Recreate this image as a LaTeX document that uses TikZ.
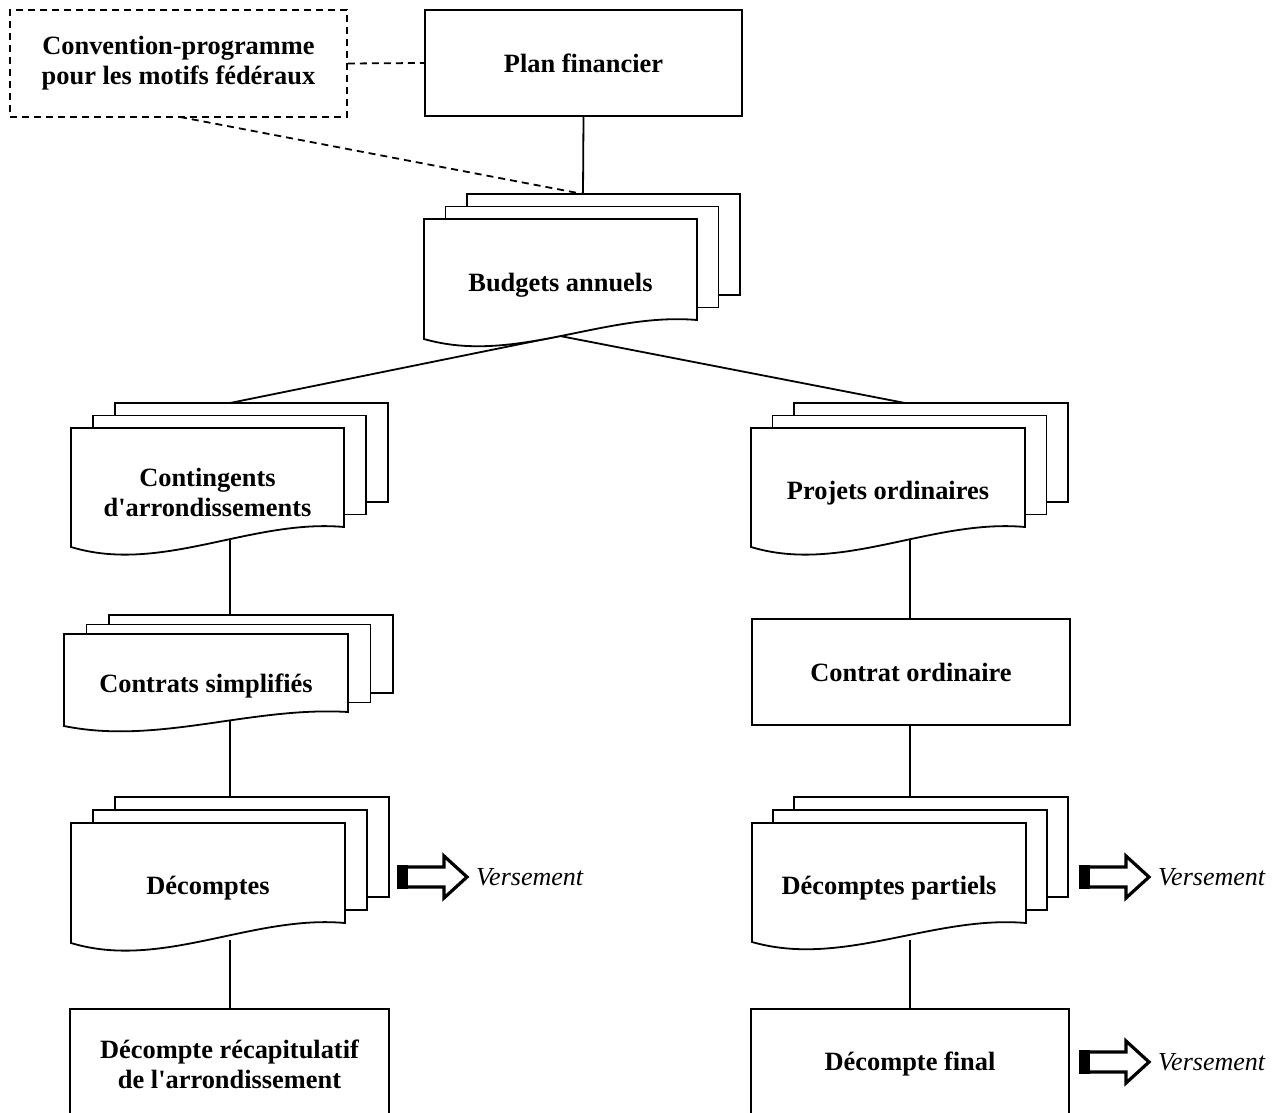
\documentclass[tikz,border=0pt]{standalone}
\usepackage{fontspec}
\setmainfont{Liberation Serif}
\pgfdeclarelayer{bg}
\pgfsetlayers{bg,main}
\tikzset{
  lw/.style={line width=1.8pt},
  sheet/.style={lw, draw=black, fill=white, line join=miter},
  lbl/.style={font=\bfseries\fontsize{26.4}{30}\selectfont, align=center, inner sep=0pt},
  boxnode/.style={lw, draw=black, fill=white, align=center, inner sep=0pt,
     font=\bfseries\fontsize{26.4}{30}\selectfont},
  dashline/.style={lw, dash pattern=on 7pt off 5pt},
  conn/.style={lw},
  verstext/.style={font=\itshape\fontsize{26}{30}\selectfont, inner sep=0pt, anchor=west},
  blockarrow/.style={line width=3.2pt, draw=black, fill=white, line join=miter}
}
% #1 name #2 x #3 y #4 w #5 h #6 L #7 dx #8 dy #9 text
\newcommand\docstack[9]{%
  \begin{scope}[shift={(#2,#3)}]
    \filldraw[sheet] (2*#7,-2*#8) rectangle ++(#4,#5);
    \filldraw[sheet] (#7,-#8) rectangle ++(#4,#5);
    \filldraw[sheet] (0,0) -- (#4,0) -- (#4,#5)
      .. controls ({0.66*#4},{#5-0.42*#6}) and ({0.33*#4},{#5+2.37*#6}) .. (0,{#5+#6}) -- cycle;
    \node[lbl] (#1) at ({#4/2},{0.62*#5+3.5}) {#9};
  \end{scope}}
% #1 name #2 x #3 y
\newcommand\versarrow[3]{%
  \begin{scope}[shift={(#2,#3)}]
    \filldraw[blockarrow] (0,-10) -- (45,-10) -- (45,-21) -- (68,0) -- (45,21) -- (45,10) -- (0,10) -- cycle;
    \fill[black] (-1.6,-11.6) rectangle (9,11.6);
    \node[verstext] (#1) at (77,0) {Versement};
  \end{scope}}
\begin{document}
\begin{tikzpicture}[x=1pt,y=-1pt]
\useasboundingbox (0,0) rectangle (1285,1113);
\clip (0,0) rectangle (1285,1113);

% top boxes
\node[boxnode, dashline, minimum width=337pt, minimum height=107pt] (conv) at (178.5,63.5)
  {Convention-programme\\pour les motifs fédéraux};
\node[boxnode, minimum width=317pt, minimum height=106pt] (plan) at (583.5,63) {\raisebox{-1pt}{Plan financier}};

% document stacks
\docstack{bud}{424}{219}{273}{101}{19}{21.5}{12.5}{Budgets annuels}
\docstack{cont}{71}{428}{273}{99}{20}{22}{12.5}{Contingents\\d\textquotesingle arrondissements}
\docstack{proj}{751}{428}{274}{99}{20}{21.5}{12.5}{Projets ordinaires}
\docstack{cs}{64}{634}{284}{78}{14}{22.5}{9.5}{Contrats simplifiés}
\docstack{dec}{71}{823}{274}{100}{20}{22}{13}{Décomptes}
\docstack{dp}{752}{823}{274}{100}{19}{21}{13}{Décomptes partiels}

% plain boxes
\node[boxnode, minimum width=318pt, minimum height=106pt] (co) at (911,672) {\raisebox{-2pt}{Contrat ordinaire}};
\node[boxnode, minimum width=319pt, minimum height=110pt] (recap) at (229.5,1064)
  {Décompte récapitulatif\\de l\textquotesingle arrondissement};
\node[boxnode, minimum width=318pt, minimum height=110pt] (final) at (910,1064) {\raisebox{-3pt}{Décompte final}};

% payment arrows
\versarrow{v1}{399}{877}
\versarrow{v2}{1081}{877}
\versarrow{v3}{1081}{1062}

% connector coordinates
\coordinate (budT) at (583,194);
\coordinate (budB) at (560,336);
\coordinate (contT) at (230,403);
\coordinate (contB) at (230,540);
\coordinate (projT) at (905,403);
\coordinate (projB) at (910,540);
\coordinate (csT) at (230,615);
\coordinate (csB) at (230,720);
\coordinate (decT) at (230,797);
\coordinate (decB) at (230,940);
\coordinate (dpT) at (910,797);
\coordinate (dpB) at (910,940);
\coordinate (convS) at (180,117);

\begin{pgfonlayer}{bg}
  \draw[dashline] (conv.east) -- (plan.west);
  \draw[dashline] (convS) -- (budT);
  \draw[conn] (plan.south) -- (budT);
  \draw[conn] (budB) -- (contT);
  \draw[conn] (budB) -- (projT);
  \draw[conn] (contB) -- (csT);
  \draw[conn] (csB) -- (decT);
  \draw[conn] (decB) -- (recap.north -| decB);
  \draw[conn] (projB) -- (co.north -| projB);
  \draw[conn] (co.south -| dpT) -- (dpT);
  \draw[conn] (dpB) -- (final.north -| dpB);
\end{pgfonlayer}
\end{tikzpicture}
\end{document}
